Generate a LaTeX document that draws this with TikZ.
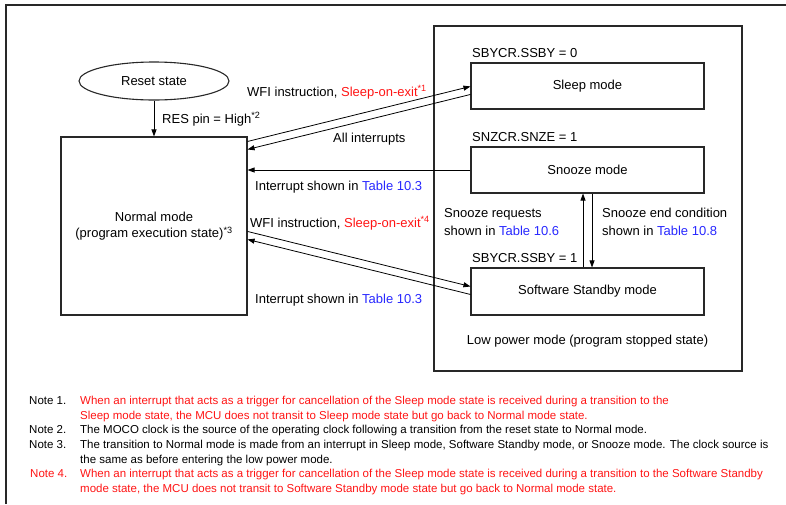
\documentclass[tikz,border=0pt]{standalone}
\usepackage{fontspec}
\setmainfont{Liberation Sans}
\usetikzlibrary{arrows.meta,shapes.geometric}
\definecolor{nred}{RGB}{255,20,20}
\definecolor{tblue}{RGB}{40,40,255}
\definecolor{lgray}{RGB}{40,40,40}
\newcommand{\dtxt}{\fontsize{13}{16}\selectfont}
\newcommand{\ntxt}{\fontsize{11.5}{13}\selectfont}
\newcommand{\sns}[1]{\textsuperscript{#1}}
\begin{document}
\begin{tikzpicture}[x=1pt,y=-1pt,
  box/.style={draw=lgray,line width=1.1pt,inner sep=0pt,font=\dtxt,align=center},
  arr/.style={draw=black,line width=0.8pt,-{Triangle[length=7pt,width=5pt]}},
  lbl/.style={anchor=base west,inner sep=0pt,font=\dtxt},
  note/.style={anchor=base west,inner sep=0pt,font=\ntxt}]
\useasboundingbox (0,0) rectangle (786,504);
\draw[line width=2.2pt,draw=lgray] (6,504) -- (6,5) -- (786,5);
% boxes
\node[box,ellipse,minimum width=150pt,minimum height=38pt] (reset) at (154,81) {Reset state};
\node[box,minimum width=186pt,minimum height=178pt] (normal) at (154,226) {Normal mode\\(program execution state)\sns{*3}};
\node[box,minimum width=308pt,minimum height=345pt] (lp) at (588,198.5) {};
\node[box,minimum width=233pt,minimum height=46pt] (sleep) at (587.5,86) {Sleep mode};
\node[box,minimum width=233pt,minimum height=46pt] (snooze) at (587.5,170) {Snooze mode};
\node[box,minimum width=233pt,minimum height=47pt] (standby) at (587.5,291.5) {Software Standby mode};
% connectors
\draw[arr] (reset.south) -- (normal.north);
\draw[arr] ([yshift=-5pt]normal.north east) -- ([yshift=-24pt]sleep.north west);
\draw[arr] ([yshift=-32pt]sleep.north west) -- ([yshift=-13pt]normal.north east);
\draw[arr] (snooze.west) -- (normal.east |- snooze.west);
\draw[arr] ([yshift=-95pt]normal.north east) -- ([yshift=-19pt]standby.north west);
\draw[arr] ([yshift=-27pt]standby.north west) -- ([yshift=-103pt]normal.north east);
\draw[arr] ([xshift=-4.5pt]standby.north) -- ([xshift=-4.5pt]snooze.south);
\draw[arr] ([xshift=4.5pt]snooze.south) -- ([xshift=4.5pt]standby.north);
% labels
\node[lbl] (l1) at (162,123) {RES pin = High\sns{*2}};
\node[lbl] (l2) at (247,96) {WFI instruction, \textcolor{nred}{Sleep-on-exit\sns{*1}}};
\node[lbl] (l3) at (333,142) {All interrupts};
\node[lbl] (l4) at (255,190) {Interrupt shown in \textcolor{tblue}{Table 10.3}};
\node[lbl] (l5) at (250,227) {WFI instruction, \textcolor{nred}{Sleep-on-exit\sns{*4}}};
\node[lbl] (l6) at (255,303) {Interrupt shown in \textcolor{tblue}{Table 10.3}};
\node[lbl] (l7) at (472,57) {SBYCR.SSBY = 0};
\node[lbl] (l8) at (472,141) {SNZCR.SNZE = 1};
\node[lbl] (l9) at (472,262) {SBYCR.SSBY = 1};
\node[lbl] (l10) at (444,217) {Snooze requests};
\node[lbl] (l11) at (444,235) {shown in \textcolor{tblue}{Table 10.6}};
\node[lbl] (l12) at (602,217) {Snooze end condition};
\node[lbl] (l13) at (602,235) {shown in \textcolor{tblue}{Table 10.8}};
\node[anchor=base,inner sep=0pt,font=\dtxt] (l14) at (587.5,344) {Low power mode (program stopped state)};
% notes
\node[note] (n1) at (29,404) {Note 1.};
\node[note,text=nred] (n1a) at (80,404) {When an interrupt that acts as a trigger for cancellation of the Sleep mode state is received during a transition to the};
\node[note,text=nred] (n1b) at (80,419) {Sleep mode state, the MCU does not transit to Sleep mode state but go back to Normal mode state.};
\node[note] (n2) at (29,433) {Note 2.};
\node[note] (n2a) at (80,433) {The MOCO clock is the source of the operating clock following a transition from the reset state to Normal mode.};
\node[note] (n3) at (29,448) {Note 3.};
\node[note] (n3a) at (80,448) {The transition to Normal mode is made from an interrupt in Sleep mode, Software Standby mode, or Snooze mode. The clock source is};
\node[note] (n3b) at (80,463) {the same as before entering the low power mode.};
\node[note,text=nred] (n4) at (30,477) {Note 4.};
\node[note,text=nred] (n4a) at (80,477) {When an interrupt that acts as a trigger for cancellation of the Sleep mode state is received during a transition to the Software Standby};
\node[note,text=nred] (n4b) at (80,492) {mode state, the MCU does not transit to Software Standby mode state but go back to Normal mode state.};
\end{tikzpicture}
\end{document}
